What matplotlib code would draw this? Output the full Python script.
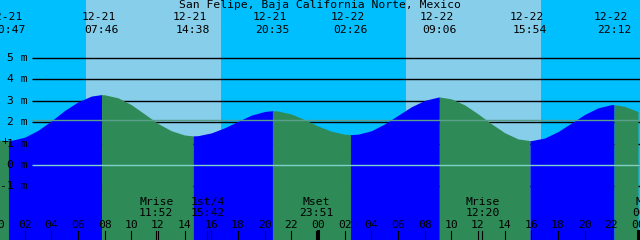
import numpy as np
import matplotlib
matplotlib.use("Agg")
import matplotlib.pyplot as plt
import matplotlib.transforms as mtransforms

"tide graph for San Felipe, xtide style"

title = "San Felipe, Baja California Norte, Mexico"

# high / low tide events (first is a low)
event_dates = ["12-21", "12-21", "12-21", "12-21", "12-22", "12-22", "12-22", "12-22"]
event_times = ["00:47", "07:46", "14:38", "20:35", "02:26", "09:06", "15:54", "22:12"]
event_heights = [1.14, 3.29, 1.36, 2.54, 1.42, 3.18, 1.14, 2.82]

# water level read every hour from 12-21 00:00 to 12-23 00:00 (m)
hourly_heights = [1.16, 1.15, 1.30, 1.62, 2.06, 2.55, 2.95, 3.22, 3.28, 3.14,
                  2.82, 2.38, 1.94, 1.60, 1.40, 1.37, 1.50, 1.74, 2.04, 2.33,
                  2.50, 2.52, 2.38, 2.12, 1.82, 1.58, 1.44, 1.44, 1.60, 1.92,
                  2.32, 2.72, 3.02, 3.17, 3.09, 2.81, 2.39, 1.93, 1.51, 1.22,
                  1.14, 1.26, 1.56, 1.96, 2.36, 2.67, 2.82, 2.74, 2.50]

# daylight (sunrise, sunset)
sun_dates = ["12-21", "12-22"]
sunrise = ["06:36", "06:36"]
sunset = ["16:44", "16:44"]

# moon events
moon_labels = ["Mrise", "1st/4", "Mset", "Mrise", "Mset"]
moon_dates = ["12-21", "12-21", "12-21", "12-22", "12-23"]
moon_times = ["11:52", "15:42", "23:51", "12:20", "00:52"]

levels = [5, 4, 3, 2, 1, 0, -1]
msl = 2.08

NIGHT = "#00BFFF"
DAY = "#87CEEB"
RISE = "#0000FF"
FALL = "#2E8B57"


def to_hours(date, hm):
    day = int(date.split("-")[1]) - 21
    hh, mm = hm.split(":")
    return day * 24 + int(hh) + int(mm) / 60.0


ev_t = np.array([to_hours(d, tm) for d, tm in zip(event_dates, event_times)])
hr_t = np.arange(len(hourly_heights), dtype=float)

t = np.concatenate([hr_t, ev_t])
h = np.concatenate([hourly_heights, event_heights])
order = np.argsort(t)
t, h = t[order], h[order]

fig = plt.figure(figsize=(6.4, 2.4), dpi=100)
ax = fig.add_axes([0, 0, 1, 1])
ax.set_xlim(0.15, 48.15)
ax.set_ylim(-3.505, 7.71)
ax.axis("off")
ax.add_patch(plt.Rectangle((0, 0), 1, 1, transform=ax.transAxes, color=NIGHT, zorder=0))

for d, sr, ss in zip(sun_dates, sunrise, sunset):
    ax.axvspan(to_hours(d, sr), to_hours(d, ss), color=DAY, lw=0, zorder=1)

bx = mtransforms.blended_transform_factory(ax.transData, ax.transAxes)
by = mtransforms.blended_transform_factory(ax.transAxes, ax.transData)

# grid lines (hidden by the water)
ax.hlines(levels, 2.55, 48.2, colors="black", lw=1.0, zorder=2)

# water: blue when rising, green when falling
bounds = [t[0]] + list(ev_t) + [t[-1]]
for i in range(len(bounds) - 1):
    m = (t >= bounds[i]) & (t <= bounds[i + 1])
    col = FALL if i % 2 == 0 else RISE
    ax.fill_between(t[m], -4, h[m], color=col, lw=0, zorder=3)

ax.hlines([msl], 2.55, 48.2, colors="#5a9e8c", lw=1.0, zorder=4)
ax.hlines([0], 2.55, 48.2, colors="#80d0c8", lw=1.0, zorder=4)

fk = dict(family="DejaVu Sans Mono", fontsize=8.2, color="black", zorder=6)

for v in levels:
    ax.text(28 / 640, v, f"{v} m", transform=by, ha="right", va="center", **fk)
ax.text(5 / 640, 1.1, "+", transform=by, ha="center", va="center", **fk)

ax.text(0.5, 1 - 5.5 / 240, title, transform=ax.transAxes, ha="center", va="center", **fk)
for d, tm, x in zip(event_dates, event_times, ev_t):
    ax.text(x - 0.22, 1 - 17 / 240, d, transform=bx, ha="center", va="center", **fk)
    ax.text(x, 1 - 30 / 240, tm, transform=bx, ha="center", va="center", **fk)

for lab, d, tm in zip(moon_labels, moon_dates, moon_times):
    x = to_hours(d, tm)
    ax.text(x, 1 - 202 / 240, lab, transform=bx, ha="center", va="center", **fk)
    ax.text(x, 1 - 213 / 240, tm, transform=bx, ha="center", va="center", **fk)
    ax.plot([x, x], [0, 9 / 240], transform=bx, color="black", lw=0.8, zorder=5)

for hr in range(0, 49, 2):
    ax.text(hr, 1 - 225.5 / 240, f"{hr % 24:02d}", transform=bx, ha="center", va="center", **fk)
    lw = 2.2 if hr % 24 == 0 else 0.8
    ax.plot([hr, hr], [0, 9 / 240], transform=bx, color="black", lw=lw, zorder=5)

fig.savefig("out.png", dpi=100)
plt.close(fig)
